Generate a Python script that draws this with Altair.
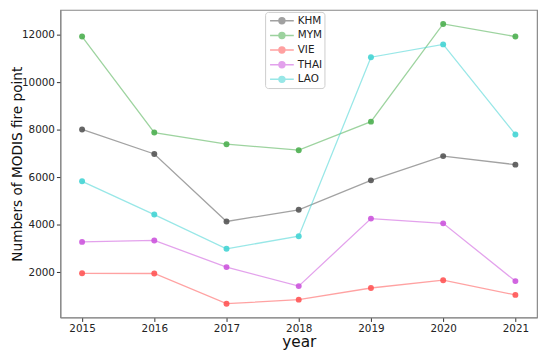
import altair as alt
import pandas as pd

years = [2015, 2016, 2017, 2018, 2019, 2020, 2021]
khm = [8010, 6980, 4140, 4630, 5870, 6890, 6530]
mym = [11920, 7880, 7390, 7140, 8340, 12450, 11920]
vie = [1960, 1950, 680, 850, 1340, 1670, 1050]
thai = [3280, 3340, 2220, 1420, 4260, 4060, 1630]
lao = [5830, 4430, 2990, 3520, 11050, 11590, 7800]

series_names = ["KHM", "MYM", "VIE", "THAI", "LAO"]
series_vals = [khm, mym, vie, thai, lao]
colors = ["#555555", "#4caf50", "#ff5555", "#cc55dd", "#44d4d4"]

rows = []
for name, vals in zip(series_names, series_vals):
    for y, v in zip(years, vals):
        rows.append({"year": y, "value": v, "country": name})
df = pd.DataFrame(rows)

color = alt.Color(
    "country:N",
    scale=alt.Scale(domain=series_names, range=colors),
    legend=alt.Legend(
        title=None,
        orient="none",
        legendX=207,
        legendY=2,
        padding=2,
        strokeColor="#cccccc",
        fillColor="white",
        cornerRadius=3,
        labelFontSize=10.5,
        labelColor="#222222",
        symbolType="M-2,0L2,0M0.5,0A0.5,0.5,0,1,1,-0.5,0A0.5,0.5,0,1,1,0.5,0",
        symbolSize=144,
        symbolStrokeWidth=1.5,
        symbolOffset=8,
        rowPadding=1.8,
        labelOffset=9,
    ),
)

x = alt.X(
    "year:Q",
    scale=alt.Scale(domain=[2014.7, 2021.3], nice=False, zero=False),
    axis=alt.Axis(
        values=years,
        format="d",
        title="year",
        titleFontSize=15.5,
        titleFontWeight="normal",
        titleY=29,
        titleBaseline="alphabetic",
        labelFontSize=10.5,
        labelPadding=2,
        tickSize=4,
        grid=False,
    ),
)
y = alt.Y(
    "value:Q",
    scale=alt.Scale(domain=[100, 13040], nice=False, zero=False),
    axis=alt.Axis(
        values=[2000, 4000, 6000, 8000, 10000, 12000],
        format="d",
        title="Numbers of MODIS fire point",
        titleFontSize=13.8,
        titleFontWeight="normal",
        titleX=-43,
        titleBaseline="middle",
        labelFontSize=10.5,
        labelPadding=2,
        tickSize=4,
        grid=False,
    ),
)

base = alt.Chart(df)
lines = base.mark_line(strokeWidth=1.3, opacity=0.55).encode(x=x, y=y, color=color)
points = base.mark_circle(size=36, opacity=0.9).encode(x=x, y=y, color=color)

chart = (
    alt.layer(lines, points)
    .properties(
        width=482,
        height=311,
        autosize=alt.AutoSizeParams(type="none"),
        padding={"left": 53, "top": 0, "right": 5, "bottom": 37},
    )
    .configure(font="DejaVu Sans")
    .configure_view(stroke="#888888", strokeWidth=1.2)
    .configure_axis(
        domainColor="#888888",
        tickColor="#333333",
        labelColor="#222222",
        titleColor="#111111",
        labelFont="DejaVu Sans",
        titleFont="DejaVu Sans",
    )
    .configure_legend(labelFont="DejaVu Sans")
)

chart.save("out.html", embed_options={"renderer": "svg", "actions": False})
